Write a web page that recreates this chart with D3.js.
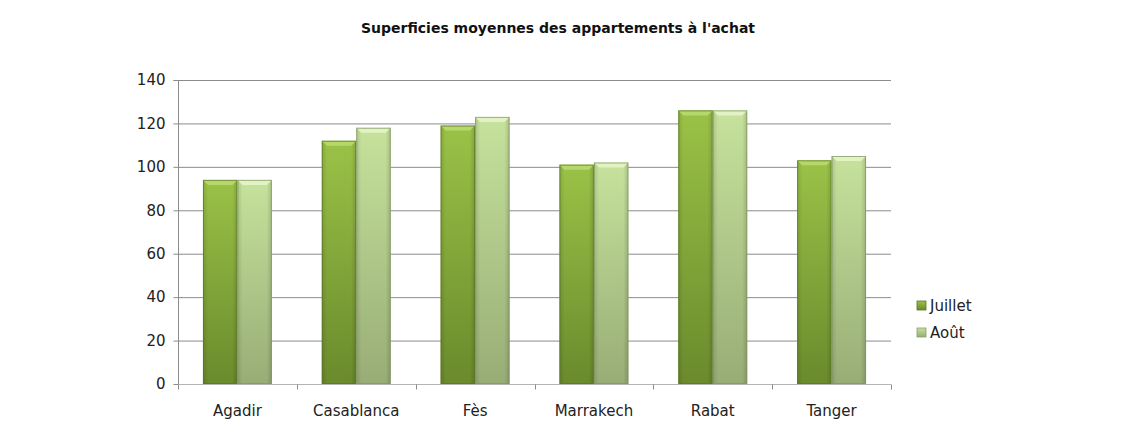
<!DOCTYPE html>
<html><head><meta charset="utf-8">
<script src="https://cdn.jsdelivr.net/npm/d3@7"></script>
<style>body{margin:0;background:#fff}svg{display:block}text{font-family:"DejaVu Sans",sans-serif}</style>
</head><body><svg id="c" width="1133" height="423"></svg>
<script>
const categories = ["Agadir","Casablanca","Fès","Marrakech","Rabat","Tanger"];
const seriesNames = ["Juillet","Août"];
const juillet = [94,112,119,101,126,103];
const aout = [94,118,123,102,126,105];
const yTicks = [0,20,40,60,80,100,120,140];
const title = "Superficies moyennes des appartements à l'achat";

const svg = d3.select("#c");
const m = {l:178, r:891, t:80, b:384};
const x = d3.scaleBand().domain(categories).range([m.l,m.r]).paddingInner(0.42).paddingOuter(0.21);
const xb = d3.scaleBand().domain(categories).range([m.l,m.r]);
const xs = d3.scaleBand().domain(seriesNames).range([0,x.bandwidth()]).padding(0.0);
const y = d3.scaleLinear().domain([0,140]).range([m.b,m.t]);

const defs = svg.append("defs");
const grads = [["g0","#9bc247","#6a8a2c"],["g1","#c6e29c","#98ad76"]];
grads.forEach(([id,c1,c2])=>{
  const g = defs.append("linearGradient").attr("id",id).attr("x1",0).attr("y1",0).attr("x2",0).attr("y2",1);
  g.append("stop").attr("offset","0%").attr("stop-color",c1);
  g.append("stop").attr("offset","100%").attr("stop-color",c2);
  const h = defs.append("linearGradient").attr("id",id+"h").attr("x1",0).attr("y1",0).attr("x2",1).attr("y2",0);
  h.append("stop").attr("offset","0%").attr("stop-color","#000").attr("stop-opacity",0.12);
  h.append("stop").attr("offset","15%").attr("stop-color","#000").attr("stop-opacity",0);
  h.append("stop").attr("offset","85%").attr("stop-color","#000").attr("stop-opacity",0);
  h.append("stop").attr("offset","100%").attr("stop-color","#000").attr("stop-opacity",0.15);
});

// gridlines
svg.append("g").selectAll("line").data(yTicks.filter(d=>d>0)).join("line")
  .attr("x1",m.l).attr("x2",m.r).attr("y1",d=>y(d)+0.5).attr("y2",d=>y(d)+0.5)
  .attr("stroke","#8c8c8c").attr("stroke-width",1);

// y axis
const ya = svg.append("g").attr("transform",`translate(${m.l+0.5},0)`)
  .call(d3.axisLeft(y).tickValues(yTicks).tickSize(5).tickPadding(6));
ya.select(".domain").attr("stroke","#8c8c8c").attr("d",`M-5,${m.t+0.5}H0V${m.b+0.5}`);
ya.selectAll(".tick line").attr("stroke","#8c8c8c");
ya.selectAll("text").attr("font-size",15).attr("fill","#222").attr("dx",-2);

// x axis
const xa = svg.append("g").attr("transform",`translate(0,${m.b+0.5})`);
xa.append("line").attr("x1",m.l).attr("x2",m.r).attr("stroke","#b5b5b5").attr("stroke-width",1);
const bounds = categories.map(c=>xb(c)).concat([xb(categories[categories.length-1])+xb.bandwidth()]);
xa.selectAll(".t").data(bounds).join("line").attr("class","t")
  .attr("x1",d=>Math.round(d)+0.5).attr("x2",d=>Math.round(d)+0.5).attr("y1",0).attr("y2",5).attr("stroke","#8c8c8c");
xa.selectAll("text").data(categories).join("text")
  .attr("x",d=>xb(d)+xb.bandwidth()/2).attr("y",31).attr("text-anchor","middle")
  .attr("font-size",15).attr("fill","#222").text(d=>d);

// bars
const data = categories.map((c,i)=>({c, vals:[juillet[i],aout[i]]}));
const groups = svg.append("g").selectAll("g").data(data).join("g")
  .attr("transform",d=>`translate(${x(d.c)},0)`);
groups.each(function(d){
  const g = d3.select(this);
  seriesNames.forEach((s,si)=>{
    const bx = xs(s), bw = xs.bandwidth(), yt = y(d.vals[si]), h = m.b - yt;
    g.append("rect").attr("x",bx).attr("y",yt).attr("width",bw).attr("height",h)
      .attr("fill",`url(#g${si})`);
    g.append("rect").attr("x",bx).attr("y",yt).attr("width",bw).attr("height",h)
      .attr("fill",`url(#g${si}h)`);
    const bv = 5;
    g.append("path").attr("d",`M${bx},${yt}H${bx+bw}L${bx+bw-bv},${yt+bv}H${bx+bv}Z`)
      .attr("fill", si===0 ? "#b6d86a" : "#e2f2c4");
    g.append("rect").attr("x",bx+0.5).attr("y",yt+0.5).attr("width",bw-1).attr("height",h-1)
      .attr("fill","none").attr("stroke", si===0 ? "#5a7526" : "#7f9460").attr("stroke-width",1).attr("stroke-opacity",0.7);
  });
});

// title
svg.append("text").attr("x",558).attr("y",33).attr("text-anchor","middle")
  .attr("font-size",14).attr("font-weight","bold").attr("fill","#111").text(title);

// legend
const leg = svg.append("g").attr("transform","translate(917,306)");
seriesNames.forEach((s,i)=>{
  const r = leg.append("g").attr("transform",`translate(0,${i*27})`);
  r.append("rect").attr("x",0).attr("y",-5).attr("width",9).attr("height",9)
    .attr("fill",`url(#g${i})`).attr("stroke",i===0?"#5a7526":"#8a9e6a").attr("stroke-width",0.8);
  r.append("text").attr("x",13).attr("y",0).attr("dy","0.35em").attr("font-size",15).attr("fill","#222").text(s);
});
</script></body></html>
